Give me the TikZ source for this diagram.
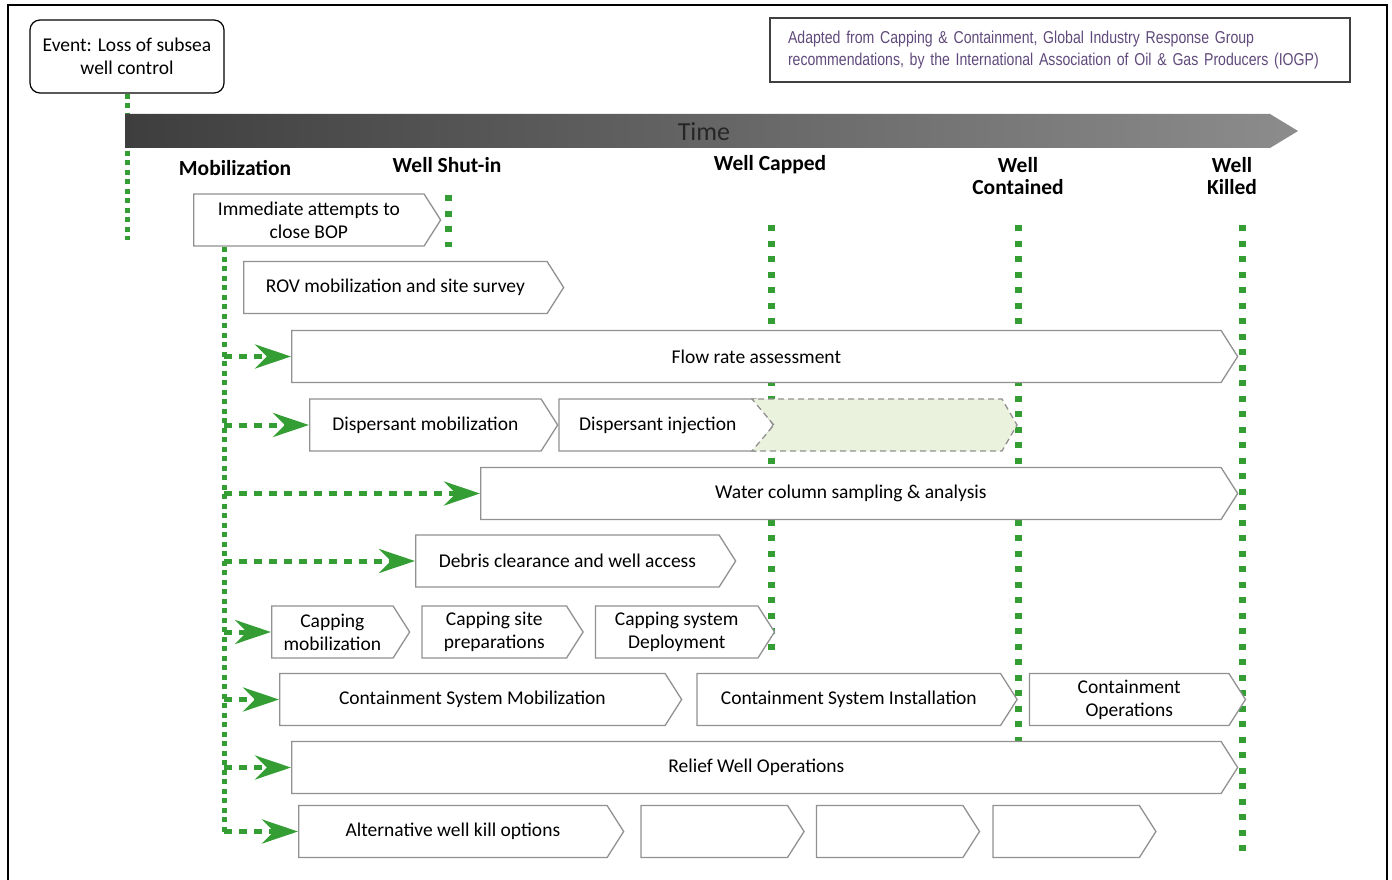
\documentclass[tikz,border=0pt]{standalone}
\usepackage{fontspec}
\setmainfont{Carlito}
\newfontfamily\notefont[FakeStretch=0.82]{Liberation Sans}
\usetikzlibrary{arrows.meta, positioning, shapes.symbols}

\definecolor{mkgreen}{RGB}{52,158,52}
\definecolor{boxgray}{RGB}{145,145,145}
\definecolor{notepurple}{RGB}{96,74,123}
\definecolor{injgreen}{RGB}{234,241,221}
\definecolor{barleft}{RGB}{62,62,62}
\definecolor{barmid}{RGB}{118,118,118}
\definecolor{barright}{RGB}{140,140,140}

\begin{document}
\begin{tikzpicture}[x=1pt, y=-1pt,
  stepbox/.style={signal, signal to=east, signal from=nowhere, signal pointer angle=115,
    draw=boxgray, line width=1.3pt, fill=white, minimum height=52pt, inner sep=2pt,
    anchor=west, align=center, font=\fontsize{19.5}{23}\selectfont},
  phase/.style={font=\fontsize{21.5}{22}\selectfont\bfseries, align=center},
  phaseline/.style={mkgreen, line width=7pt, dash pattern=on 6pt off 9.5pt},
  mobline/.style={mkgreen, line width=5pt, dash pattern=on 5pt off 4.5pt},
  feed/.style={mkgreen, line width=5pt, dash pattern=on 8pt off 7pt,
    -{Stealth[length=36pt, width=24pt, inset=12pt]}}]
\useasboundingbox (0,0) rectangle (1392,880);
\draw[line width=1.6pt] (8,5) rectangle (1387,900);

% event and source note
\node (event) [draw, rounded corners=10pt, line width=1.2pt, minimum width=194pt, minimum height=73pt,
  align=center, font=\fontsize{19.5}{23}\selectfont] at (127,56.5) {Event: Loss of subsea\\well control};
\node (note) [draw=black!75, line width=1.4pt, text width=544pt, inner xsep=18pt, minimum height=64pt,
  align=left, text=notepurple, font=\notefont\fontsize{17.2}{22}\selectfont] at (1060,50)
  {Adapted from Capping \& Containment, Global Industry Response Group\\
   recommendations, by the International Association of Oil \& Gas Producers (IOGP)};

% milestone lines
\coordinate (evend) at (127,240);
\draw[mobline] (event.south) -- (evend);
\foreach \x/\ya/\yb in {448/195/247, 771/225/657, 1018/225/797, 1242/225/858}
  \draw[phaseline] (\x,\ya) -- (\x,\yb);

% time bar
\shade[left color=barleft, middle color=barmid, right color=barright]
  (125,114) -- (1270,114) -- (1298,131) -- (1270,148) -- (125,148) -- cycle;
\node (time) [font=\fontsize{26}{28}\selectfont, text=black!85] at (704,132) {Time};

\node (mobl) [phase] at (235,168) {Mobilization};
\node (shut) [phase] at (447,165) {Well Shut-in};
\node (capd) [phase] at (770,165) {Well Capped};
\node (cont) [phase] at (1018,176) {Well\\Contained};
\node (kill) [phase] at (1232,176) {Well\\Killed};

% mobilization line
\coordinate (mobtop) at (224,247);
\coordinate (mobbot) at (224,831.5);
\draw[mobline] (mobtop) -- (mobbot);

% activities
\node (bop) [stepbox, minimum width=247pt] at (193,220) {Immediate attempts to\\close BOP};
\node (rov) [stepbox, minimum width=320pt] at (243,287.5) {ROV mobilization and site survey};
\node (flow) [stepbox, minimum width=946pt] at (291,356.5) {Flow rate assessment};
\node (dmob) [stepbox, minimum width=248pt] at (309,425) {Dispersant mobilization};
\node (dinj) [stepbox, minimum width=214pt, right=0pt of dmob] {Dispersant injection};
\draw[draw=boxgray, line width=1.3pt, dash pattern=on 6pt off 4pt, fill=injgreen]
  (dinj.east) -- (752,399) -- (1002,399) -- (1017,425) -- (1002,451) -- (752,451) -- cycle;
\node (water) [stepbox, minimum width=757pt] at (480,493.5) {Water column sampling \& analysis};
\node (debris) [stepbox, minimum width=320pt] at (415,561) {Debris clearance and well access};
\node (cmob) [stepbox, minimum width=138pt] at (271,632) {Capping\\mobilization};
\node (csite) [stepbox, minimum width=161pt, right=11pt of cmob] {Capping site\\preparations};
\node (cdep) [stepbox, minimum width=179pt, right=11pt of csite] {Capping system\\Deployment};
\node (tmob) [stepbox, minimum width=402pt] at (279,699.5) {Containment System Mobilization};
\node (tinst) [stepbox, minimum width=320pt, right=14pt of tmob] {Containment System Installation};
\node (tops) [stepbox, minimum width=216pt, right=11pt of tinst] {Containment\\Operations};
\node (relief) [stepbox, minimum width=946pt] at (291,767.5) {Relief Well Operations};
\node (alt) [stepbox, minimum width=325pt] at (298,831.5) {Alternative well kill options};
\node (alta) [stepbox, minimum width=163pt, right=16pt of alt] {};
\node (altb) [stepbox, minimum width=163pt, right=11pt of alta] {};
\node (altc) [stepbox, minimum width=163pt, right=12pt of altb] {};

% start arrows
\draw[feed] (mobtop |- flow.west) -- (flow.west);
\draw[feed] (mobtop |- dmob.west) -- (dmob.west);
\draw[feed] (mobtop |- water.west) -- (water.west);
\draw[feed] (mobtop |- debris.west) -- (debris.west);
\draw[feed] (mobtop |- cmob.west) -- (cmob.west);
\draw[feed] (mobtop |- tmob.west) -- (tmob.west);
\draw[feed] (mobtop |- relief.west) -- (relief.west);
\draw[feed] (mobbot) -- (alt.west);

\end{tikzpicture}
\end{document}
